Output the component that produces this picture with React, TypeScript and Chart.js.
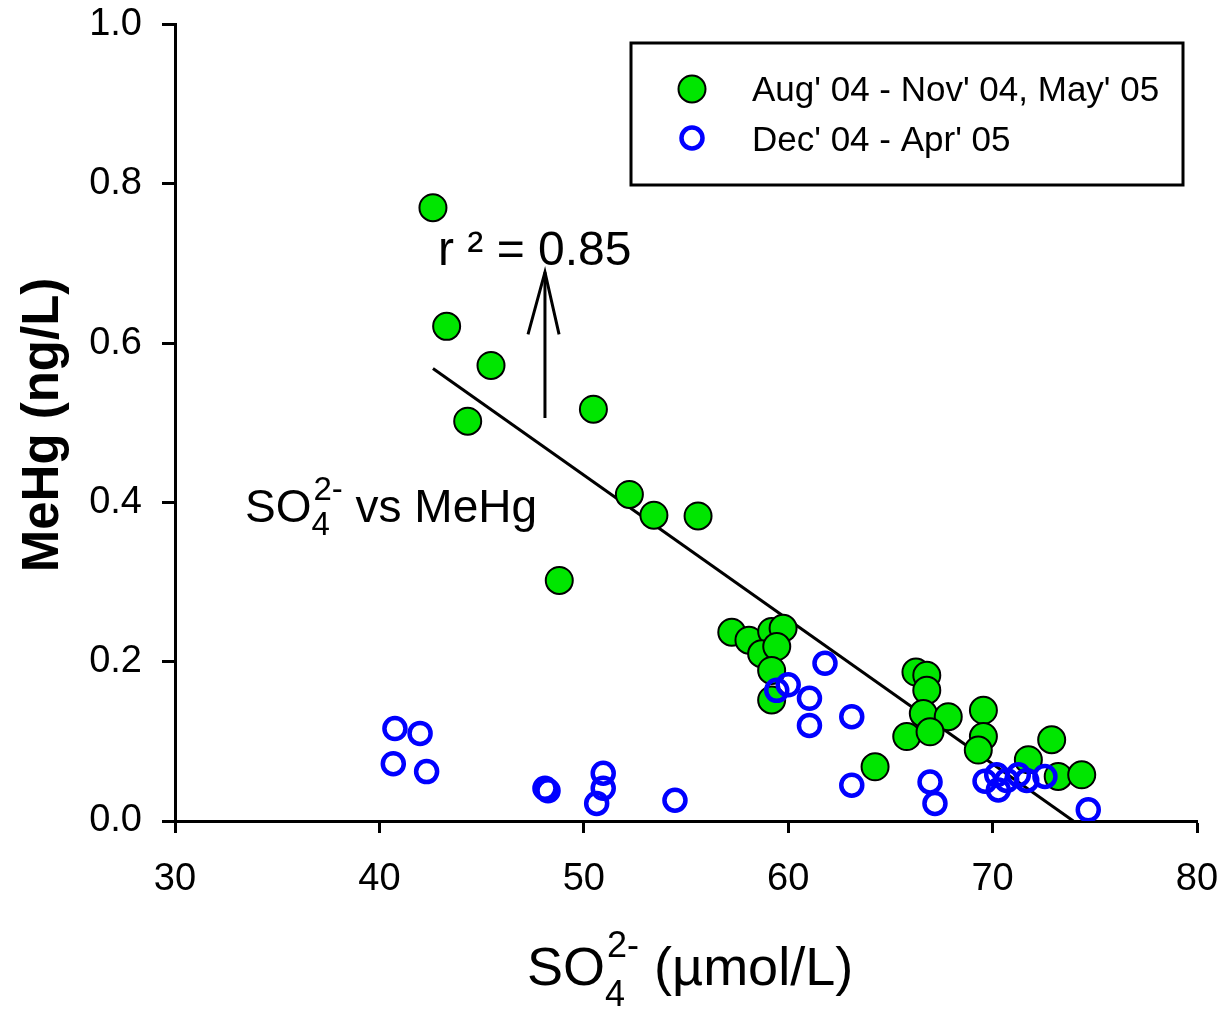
import React, { useEffect, useRef } from 'react';
import { Chart, registerables } from 'chart.js';

Chart.register(...registerables);

// ---- Data ----
const seriesLabels = ["Aug' 04 - Nov' 04, May' 05", "Dec' 04 - Apr' 05"];

const greenX = [42.62, 43.29, 45.46, 44.32, 50.47, 52.23, 53.43, 55.59, 48.8, 57.24, 58.08, 59.19, 59.75, 58.7, 59.44, 59.19, 59.19, 66.25, 66.78, 66.78, 66.61, 67.83, 65.8, 66.94, 64.25, 69.55, 69.55, 69.3, 72.89, 71.75, 73.21, 74.36];
const greenY = [0.77, 0.621, 0.572, 0.502, 0.517, 0.41, 0.384, 0.383, 0.302, 0.237, 0.227, 0.238, 0.242, 0.21, 0.219, 0.189, 0.152, 0.187, 0.183, 0.164, 0.135, 0.131, 0.106, 0.112, 0.068, 0.139, 0.106, 0.089, 0.102, 0.077, 0.056, 0.058];

const blueX = [40.76, 41.99, 40.68, 42.31, 48.1, 48.25, 50.95, 50.95, 50.63, 54.46, 61.8, 60.0, 59.44, 61.04, 61.04, 63.11, 63.11, 66.94, 67.18, 69.63, 70.28, 70.2, 70.69, 71.26, 71.67, 72.56, 74.68];
const blueY = [0.116, 0.11, 0.072, 0.062, 0.041, 0.038, 0.06, 0.041, 0.022, 0.026, 0.198, 0.171, 0.164, 0.154, 0.12, 0.131, 0.045, 0.049, 0.022, 0.05, 0.039, 0.058, 0.051, 0.058, 0.051, 0.056, 0.014];

const fitX = [42.62, 73.95];
const fitY = [0.568, 0.0];

const arrowShaftX = [48.1, 48.1];
const arrowShaftY = [0.506, 0.689];
const arrowHeadX = [47.27, 48.1, 48.79];
const arrowHeadY = [0.611, 0.689, 0.611];

const xTicks = [30, 40, 50, 60, 70, 80];
const yTicks = [0.0, 0.2, 0.4, 0.6, 0.8, 1.0];

const r2Label = 'r \u00B2 = 0.85';
const FONT = "'Liberation Sans', Arial, Helvetica, sans-serif";

const GREEN = '#00e600';
const BLUE = '#0000ff';

function pts(xs: number[], ys: number[]) {
  return xs.map((x, i) => ({ x, y: ys[i] }));
}

function drawChem(ctx: CanvasRenderingContext2D, x: number, y: number, size: number, subSize: number, subDy: number, supDy: number, tail: string) {
  ctx.font = `${size}px ${FONT}`;
  ctx.textBaseline = 'alphabetic';
  ctx.textAlign = 'left';
  ctx.fillText('SO', x, y);
  let cx = x + ctx.measureText('SO').width;
  ctx.font = `${subSize}px ${FONT}`;
  ctx.fillText('4', cx, y + subDy);
  const w4 = ctx.measureText('4').width;
  ctx.fillText('2-', cx + 2, y - supDy);
  const w2 = ctx.measureText('2-').width + 2;
  cx += Math.max(w4, w2);
  ctx.font = `${size}px ${FONT}`;
  ctx.fillText(tail, cx, y);
}

const decorPlugin = {
  id: 'decor',
  afterDraw(chart: any) {
    const ctx: CanvasRenderingContext2D = chart.ctx;
    ctx.save();
    ctx.fillStyle = '#000';

    // Y axis title
    ctx.save();
    ctx.translate(58, 425);
    ctx.rotate(-Math.PI / 2);
    ctx.font = `bold 51px ${FONT}`;
    ctx.textAlign = 'center';
    ctx.textBaseline = 'alphabetic';
    ctx.fillText('MeHg (ng/L)', 0, 0);
    ctx.restore();

    // X axis title
    drawChem(ctx, 527, 985, 54, 36, 21, 28, ' (\u00B5mol/L)');

    // Annotation SO4 vs MeHg
    drawChem(ctx, 245, 522, 46, 33, 13, 22, ' vs MeHg');

    // r2 label
    ctx.font = `48px ${FONT}`;
    ctx.textAlign = 'left';
    ctx.textBaseline = 'alphabetic';
    ctx.fillText(r2Label, 438, 265);

    // Legend box
    ctx.lineWidth = 3;
    ctx.strokeStyle = '#000';
    ctx.strokeRect(631, 43, 552, 142);

    // Legend markers
    ctx.beginPath();
    ctx.arc(692, 89, 13.5, 0, Math.PI * 2);
    ctx.fillStyle = GREEN;
    ctx.fill();
    ctx.lineWidth = 2;
    ctx.strokeStyle = '#000';
    ctx.stroke();

    ctx.beginPath();
    ctx.arc(692, 138, 10.5, 0, Math.PI * 2);
    ctx.lineWidth = 4.5;
    ctx.strokeStyle = BLUE;
    ctx.stroke();

    ctx.fillStyle = '#000';
    ctx.font = `35px ${FONT}`;
    ctx.textAlign = 'left';
    ctx.textBaseline = 'alphabetic';
    ctx.fillText(seriesLabels[0], 752, 101);
    ctx.fillText(seriesLabels[1], 752, 151);

    ctx.restore();
  },
};

export default function App() {
  const ref = useRef<HTMLCanvasElement>(null);

  useEffect(() => {
    if (!ref.current) return;
    const chart = new Chart(ref.current, {
      type: 'scatter',
      data: {
        datasets: [
          {
            label: 'fit',
            data: pts(fitX, fitY),
            showLine: true,
            borderColor: '#000',
            borderWidth: 3,
            pointRadius: 0,
            order: 3,
          } as any,
          {
            label: 'arrowShaft',
            data: pts(arrowShaftX, arrowShaftY),
            showLine: true,
            borderColor: '#000',
            borderWidth: 3,
            pointRadius: 0,
            order: 3,
          },
          {
            label: 'arrowHead',
            data: pts(arrowHeadX, arrowHeadY),
            showLine: true,
            borderColor: '#000',
            borderWidth: 3,
            pointRadius: 0,
            order: 3,
          },
          {
            label: seriesLabels[0],
            data: pts(greenX, greenY),
            backgroundColor: GREEN,
            borderColor: '#000',
            borderWidth: 2,
            pointRadius: 13.5,
            order: 2,
          },
          {
            label: seriesLabels[1],
            data: pts(blueX, blueY),
            backgroundColor: 'rgba(0,0,0,0)',
            borderColor: BLUE,
            borderWidth: 4.5,
            pointRadius: 10.5,
            order: 1,
          },
        ],
      },
      options: {
        animation: false,
        responsive: false,
        devicePixelRatio: 1,
        layout: { padding: { top: 24.5, right: 26, left: 0, bottom: 0 } },
        plugins: {
          legend: { display: false },
          tooltip: { enabled: false },
        },
        scales: {
          x: {
            type: 'linear',
            min: 30,
            max: 80,
            afterBuildTicks: (s: any) => {
              s.ticks = xTicks.map((v) => ({ value: v }));
            },
            afterFit: (s: any) => {
              s.height = 189;
              s.paddingLeft = 0;
              s.paddingRight = 0;
              s.paddingTop = 0;
              s.paddingBottom = 0;
            },
            ticks: {
              color: '#000',
              font: { family: FONT, size: 38 },
              padding: 24,
              maxRotation: 0,
              callback: (v: any) => String(v),
            },
            grid: {
              drawOnChartArea: false,
              drawTicks: true,
              tickLength: 12,
              tickWidth: 3,
              tickColor: '#000',
              color: '#000',
            },
            border: { display: true, color: '#000', width: 3 },
          },
          y: {
            type: 'linear',
            min: 0,
            max: 1,
            afterBuildTicks: (s: any) => {
              s.ticks = yTicks.map((v) => ({ value: v }));
            },
            afterFit: (s: any) => {
              s.width = 175;
              s.paddingLeft = 0;
              s.paddingRight = 0;
              s.paddingTop = 0;
              s.paddingBottom = 0;
            },
            ticks: {
              color: '#000',
              font: { family: FONT, size: 38 },
              padding: 20,
              callback: (v: any) => Number(v).toFixed(1),
            },
            grid: {
              drawOnChartArea: false,
              drawTicks: true,
              tickLength: 13,
              tickWidth: 3,
              tickColor: '#000',
              color: '#000',
            },
            border: { display: true, color: '#000', width: 3 },
          },
        },
      },
      plugins: [decorPlugin],
    });
    return () => chart.destroy();
  }, []);

  return (
    <div style={{ position: 'absolute', left: 0, top: 0, width: 1223, height: 1010, background: '#fff' }}>
      <canvas ref={ref} width={1223} height={1010} />
    </div>
  );
}
